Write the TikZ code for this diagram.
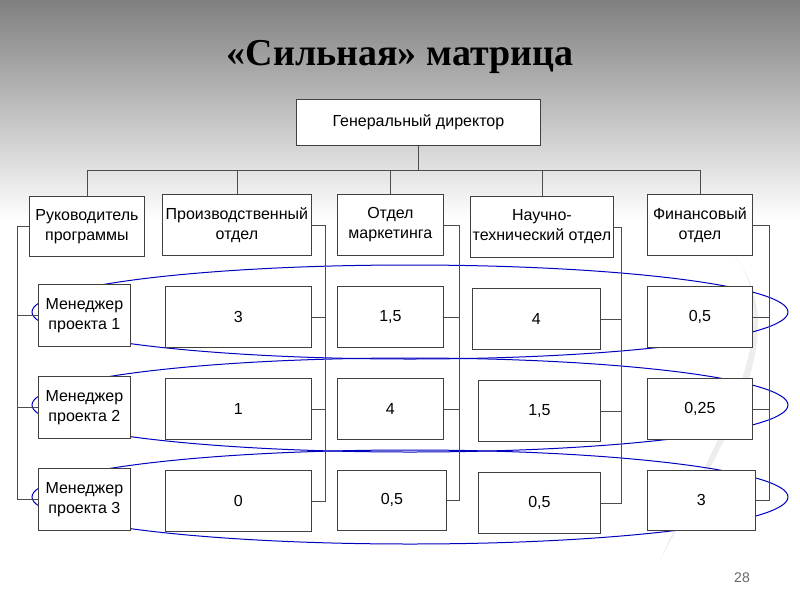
\documentclass[tikz,border=0pt]{standalone}
\usepackage{fontspec}
\setmainfont{Liberation Sans}
\newfontfamily\titlefont{Liberation Serif}
\begin{document}
\begin{tikzpicture}[x=1pt,y=-1pt,
  bx/.style={draw=black!75,fill=white,line width=0.8pt,align=center,font=\fontsize{16}{20}\selectfont,inner sep=0pt},
  ln/.style={draw=black!70,line width=0.8pt},
  ov/.style={draw=blue!75!black,line width=1pt}]
\useasboundingbox (0,0) rectangle (800,600);
\shade[top color=black!50,bottom color=white] (0,0) rectangle (800,220);
\fill[white] (0,220) rectangle (800,600);
\fill[black!7] (720,240) .. controls (800,310) and (720,430) .. (660,560) .. controls (730,430) and (805,320) .. (720,240);
\node[font=\titlefont\bfseries\fontsize{38}{42}\selectfont] (title) at (400,57) {«Сильная» матрица};
\node[font=\fontsize{14}{16}\selectfont,text=black!60] (pg) at (742,578) {28};
% ellipses
\foreach \y in {312,405,497} \draw[ov] (410,\y) ellipse [x radius=378,y radius=47];
% boxes
\newcommand\bxr[4]{\node[bx,minimum width=#3-#1,minimum height=#4-#2,anchor=north west] at (#1,#2)}
\bxr{296}{99}{540}{145} (gd) {Генеральный директор};
\bxr{29}{196}{144}{256} (rp) {Руководитель\\программы};
\bxr{162}{194}{311}{255} (po) {Производственный\\отдел};
\bxr{337}{194}{443}{255} (om) {Отдел\\маркетинга};
\bxr{470}{196}{613}{257} (nt) {Научно-\\технический отдел};
\bxr{647}{194}{752}{255} (fo) {Финансовый\\отдел};
\bxr{38}{284}{130}{346} (m1) {Менеджер\\проекта 1};
\bxr{38}{376}{130}{438} (m2) {Менеджер\\проекта 2};
\bxr{38}{468}{130}{530} (m3) {Менеджер\\проекта 3};
\bxr{165}{286}{311}{347} (p1) {3};
\bxr{165}{378}{311}{439} (p2) {1};
\bxr{165}{470}{311}{531} (p3) {0};
\bxr{337}{286}{443}{347} (k1) {1,5};
\bxr{337}{378}{443}{439} (k2) {4};
\bxr{337}{470}{446}{530} (k3) {0,5};
\bxr{472}{288}{600}{349} (n1) {4};
\bxr{478}{380}{600}{441} (n2) {1,5};
\bxr{478}{472}{600}{533} (n3) {0,5};
\bxr{647}{286}{752}{347} (f1) {0,5};
\bxr{647}{378}{752}{439} (f2) {0,25};
\bxr{647}{470}{755}{530} (f3) {3};
% top tree
\draw[ln] (gd.south) -- ++(0,25) coordinate (bus);
\draw[ln] (rp.north) |- (bus) -| (fo.north);
\draw[ln] (po.north) -- (po.north |- bus);
\draw[ln] (om.north) -- (om.north |- bus);
\draw[ln] (nt.north) -- (nt.north |- bus);
% left bracket
\draw[ln] (rp.west) -- ++(-12,0) coordinate (lb) |- (m3.west);
\draw[ln] (m1.west) -- (m1.west -| lb);
\draw[ln] (m2.west) -- (m2.west -| lb);
% right brackets
\foreach \h/\a/\b/\c/\xx in {po/p1/p2/p3/325, om/k1/k2/k3/459, nt/n1/n2/n3/621, fo/f1/f2/f3/769}{
  \draw[ln] (\h.east) -- (\xx,0 |- \h.east) |- (\c.east);
  \draw[ln] (\a.east) -- (\xx,0 |- \a.east);
  \draw[ln] (\b.east) -- (\xx,0 |- \b.east);
}
\end{tikzpicture}
\end{document}
